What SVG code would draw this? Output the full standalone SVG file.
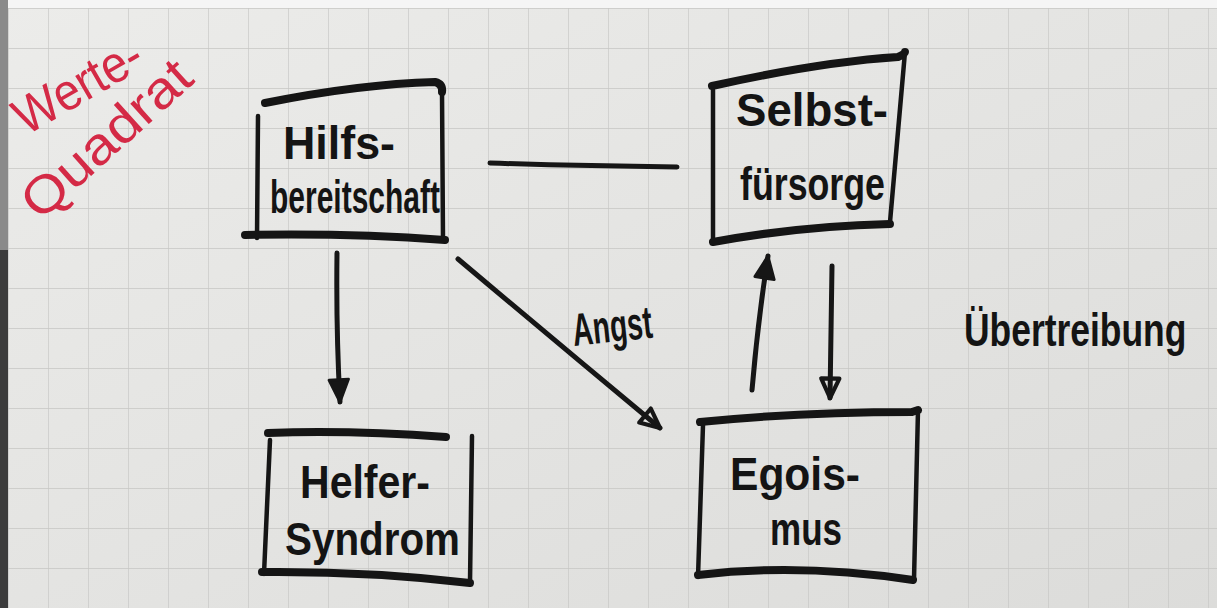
<svg xmlns="http://www.w3.org/2000/svg" width="1217" height="608" viewBox="0 0 1217 608">
<defs>
<pattern id="grid" x="8" y="8" width="40" height="40" patternUnits="userSpaceOnUse">
<path d="M 0 0 V 40 M 0 0 H 40" fill="none" stroke="#c6c6c4" stroke-width="1.3"/>
</pattern>
<marker id="fill" viewBox="0 0 20 20" refX="18" refY="10" markerWidth="28" markerHeight="28" markerUnits="userSpaceOnUse" orient="auto">
<path d="M 2 3 L 18 10 L 2 17 Z" fill="#161616" stroke="#161616" stroke-width="2" stroke-linejoin="round"/>
</marker>
<marker id="open" viewBox="0 0 20 20" refX="18" refY="10" markerWidth="26" markerHeight="26" markerUnits="userSpaceOnUse" orient="auto">
<path d="M 3 3 L 18 10 L 3 17 Z" fill="none" stroke="#161616" stroke-width="3.2" stroke-linejoin="round"/>
</marker>
<linearGradient id="shade" x1="0" y1="0" x2="1" y2="1">
<stop offset="0" stop-color="#ececea"/>
<stop offset="1" stop-color="#dcdcda"/>
</linearGradient>
</defs>
<style>
.box{fill:none;stroke:#151515;stroke-linecap:round;stroke-linejoin:round}
.thick{stroke-width:8}
.thin{stroke-width:4.5}
.lbl{font-family:"Liberation Sans",Arial,sans-serif;fill:#141414;font-size:46px;font-weight:bold}
.red{font-family:"Liberation Sans",Arial,sans-serif;fill:#d42a46;font-size:52px}
.conn{fill:none;stroke:#161616;stroke-width:5;stroke-linecap:round}
</style>
<rect x="0" y="0" width="1217" height="608" fill="url(#shade)"/>
<rect x="0" y="0" width="1217" height="608" fill="url(#grid)"/>
<rect x="0" y="0" width="1217" height="8" fill="#f5f5f5"/>
<rect x="0" y="0" width="8" height="608" fill="#8a8a8a"/>
<rect x="0" y="250" width="8" height="358" fill="#3c3c3c"/>

<g id="title">
<text class="red" transform="translate(26,136) rotate(-30)" textLength="140" lengthAdjust="spacingAndGlyphs">Werte-</text>
<text class="red" transform="translate(40,222) rotate(-42)" textLength="210" lengthAdjust="spacingAndGlyphs">Quadrat</text>
</g>

<g id="connectors">
<path class="conn" d="M 490 163 Q 580 166 677 167"/>
<path class="conn" d="M 337 253 Q 336 330 340 402" marker-end="url(#fill)"/>
<path class="conn" d="M 458 259 Q 560 345 660 428" marker-end="url(#open)"/>
<path class="conn" d="M 752 390 Q 758 320 768 256" marker-end="url(#fill)"/>
<path class="conn" d="M 832 266 Q 831 330 830 398" marker-end="url(#open)"/>
<text class="lbl" x="572" y="342" font-size="44" transform="rotate(-6 610 325)" textLength="80" lengthAdjust="spacingAndGlyphs">Angst</text>
<text class="lbl" font-size="52" transform="translate(964,346) scale(0.77,1)">Übertreibung</text>
</g>

<g id="node-hilfsbereitschaft">
<path class="box thick" d="M 265 103 Q 360 84 435 82 Q 443 84 442 92"/>
<path class="box thin" d="M 442 92 L 443 240"/>
<path class="box thin" d="M 258 116 L 257 238"/>
<path class="box thick" d="M 245 235 Q 350 233 445 240"/>
<text class="lbl" x="283" y="159" textLength="112" lengthAdjust="spacingAndGlyphs">Hilfs-</text>
<text class="lbl" x="270" y="213" textLength="170" lengthAdjust="spacingAndGlyphs">bereitschaft</text>
</g>

<g id="node-selbstfuersorge">
<path class="box thick" d="M 712 86 Q 820 62 898 57 Q 905 54 905 52"/>
<path class="box thin" d="M 905 52 L 890 222"/>
<path class="box thin" d="M 713 90 L 713 242"/>
<path class="box thick" d="M 713 242 Q 800 226 890 224"/>
<text class="lbl" x="736" y="126" textLength="152" lengthAdjust="spacingAndGlyphs">Selbst-</text>
<text class="lbl" x="740" y="200" textLength="145" lengthAdjust="spacingAndGlyphs">fürsorge</text>
</g>

<g id="node-helfersyndrom">
<path class="box thick" d="M 268 433 Q 350 430 446 437"/>
<path class="box thin" d="M 472 436 L 470 583"/>
<path class="box thin" d="M 270 440 L 264 574"/>
<path class="box thick" d="M 262 572 Q 370 571 470 583"/>
<text class="lbl" x="300" y="498" textLength="130" lengthAdjust="spacingAndGlyphs">Helfer-</text>
<text class="lbl" x="285" y="555" textLength="175" lengthAdjust="spacingAndGlyphs">Syndrom</text>
</g>

<g id="node-egoismus">
<path class="box thick" d="M 700 422 Q 800 412 912 412 Q 918 410 918 410"/>
<path class="box thin" d="M 918 410 L 914 580"/>
<path class="box thin" d="M 703 425 L 698 577"/>
<path class="box thick" d="M 698 575 Q 800 563 913 580"/>
<text class="lbl" x="730" y="490" textLength="130" lengthAdjust="spacingAndGlyphs">Egois-</text>
<text class="lbl" x="770" y="545" textLength="72" lengthAdjust="spacingAndGlyphs">mus</text>
</g>
</svg>
